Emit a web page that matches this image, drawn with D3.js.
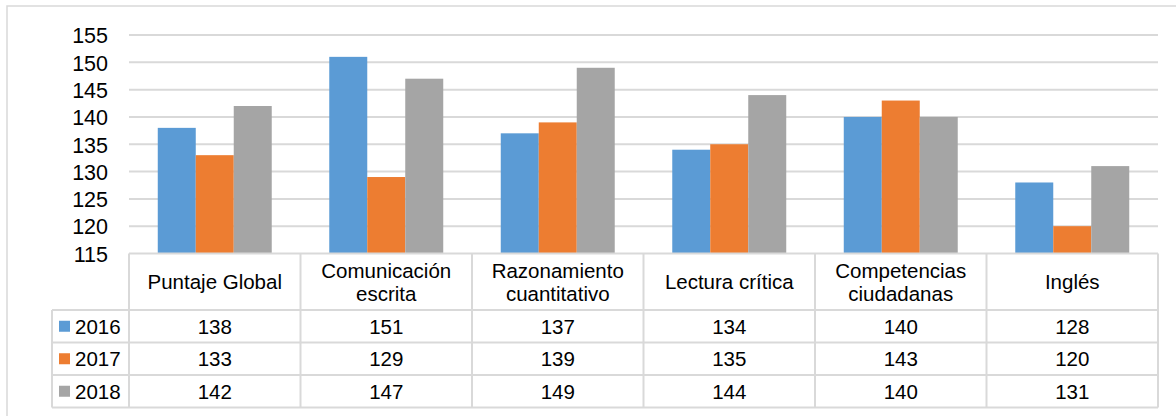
<!DOCTYPE html>
<html><head><meta charset="utf-8">
<script src="https://cdnjs.cloudflare.com/ajax/libs/d3/7.8.5/d3.min.js"></script>
<style>html,body{margin:0;padding:0;background:#fff;overflow:hidden}svg{display:block;font-family:"Liberation Sans",Arial,sans-serif}</style>
</head><body>
<svg id="c" width="1176" height="416"></svg>
<script>
const categories = [["Puntaje Global"],["Comunicación","escrita"],["Razonamiento","cuantitativo"],["Lectura crítica"],["Competencias","ciudadanas"],["Inglés"]];
const seriesNames = ["2016","2017","2018"];
const values2016 = [138,151,137,134,140,128];
const values2017 = [133,129,139,135,143,120];
const values2018 = [142,147,149,144,140,131];
const colors = ["#5b9bd5","#ed7d31","#a5a5a5"];
const yTicks = [115,120,125,130,135,140,145,150,155];
const series = [values2016, values2017, values2018];

const svg = d3.select("#c");
const grid = "#d9d9d9";
// outer border
svg.append("rect").attr("x",7).attr("y",6).attr("width",1200).attr("height",440)
  .attr("fill","none").attr("stroke",grid).attr("stroke-width",1.5);

const x0 = d3.scaleBand().domain(d3.range(categories.length)).range([129,1158]).padding(0);
const x1 = d3.scaleBand().domain(seriesNames).range([0,x0.bandwidth()]).paddingInner(0).paddingOuter(0.757);
const y = d3.scaleLinear().domain([115,155]).range([253.5,35]);

// gridlines
svg.append("g").selectAll("line").data(yTicks.slice(1)).join("line")
  .attr("x1",129).attr("x2",1158).attr("y1",d=>y(d)).attr("y2",d=>y(d))
  .attr("stroke",grid).attr("stroke-width",2);

// y axis labels
const yAxis = d3.axisLeft(y).tickValues(yTicks).tickSize(0).tickPadding(0);
const ya = svg.append("g").attr("transform","translate(108,0)").call(yAxis);
ya.select(".domain").remove();
ya.selectAll("text").attr("font-size",21.5).attr("fill","#000").attr("font-family","Liberation Sans, Arial, sans-serif").attr("dy","0.36em");

// bars
series.forEach((vals,si)=>{
  svg.append("g").selectAll("rect").data(vals).join("rect")
    .attr("x",(d,i)=>x0(i)+x1(seriesNames[si]))
    .attr("width",x1.bandwidth())
    .attr("y",d=>y(d)).attr("height",d=>y(115)-y(d))
    .attr("fill",colors[si]);
});

// data table
const headTop = y(115), headBot = 310;
const rowYs = [310,342.5,375,407.5];
const tbl = svg.append("g");
const fs = 20.5;
// horizontal lines
tbl.append("line").attr("x1",129).attr("x2",1158).attr("y1",headTop).attr("y2",headTop).attr("stroke",grid).attr("stroke-width",2);
rowYs.forEach(ry=>tbl.append("line").attr("x1",52).attr("x2",1158).attr("y1",ry).attr("y2",ry).attr("stroke",grid).attr("stroke-width",2));
// vertical lines
tbl.append("line").attr("x1",52).attr("x2",52).attr("y1",headBot).attr("y2",rowYs[3]).attr("stroke",grid).attr("stroke-width",2);
d3.range(categories.length+1).forEach(i=>{
  const xx = i<categories.length ? x0(i) : x0.range()[1];
  tbl.append("line").attr("x1",xx).attr("x2",xx).attr("y1",headTop).attr("y2",rowYs[3]).attr("stroke",grid).attr("stroke-width",2);
});
// headers
categories.forEach((lines,i)=>{
  const cx = x0(i)+x0.bandwidth()/2;
  const mid = (headTop+headBot)/2;
  const lh = 23;
  const t = tbl.append("text").attr("text-anchor","middle").attr("font-size",fs).attr("fill","#000");
  lines.forEach((ln,j)=>{
    t.append("tspan").attr("x",cx).attr("y",mid + (j-(lines.length-1)/2)*lh).attr("dy","0.36em").text(ln);
  });
});
// rows
series.forEach((vals,si)=>{
  const cy = (rowYs[si]+rowYs[si+1])/2;
  tbl.append("rect").attr("x",59).attr("y",cy-5.5).attr("width",11).attr("height",11).attr("fill",colors[si]);
  tbl.append("text").attr("x",75).attr("y",cy).attr("dy","0.36em").attr("font-size",fs).attr("fill","#000").text(seriesNames[si]);
  vals.forEach((v,i)=>{
    tbl.append("text").attr("x",x0(i)+x0.bandwidth()/2).attr("y",cy).attr("dy","0.36em")
      .attr("text-anchor","middle").attr("font-size",fs).attr("fill","#000").text(v);
  });
});
</script>
</body></html>
